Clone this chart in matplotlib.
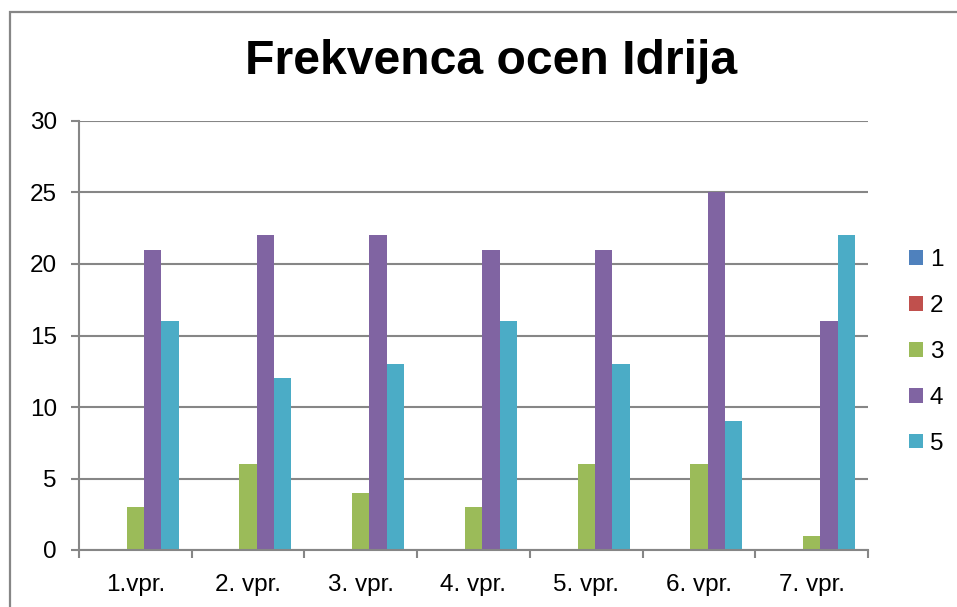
import matplotlib
matplotlib.use("Agg")
import matplotlib.pyplot as plt
import numpy as np
from matplotlib.patches import Rectangle

categories = ["1.vpr.", "2. vpr.", "3. vpr.", "4. vpr.", "5. vpr.", "6. vpr.", "7. vpr."]
series_names = ["1", "2", "3", "4", "5"]
s1 = [0, 0, 0, 0, 0, 0, 0]
s2 = [0, 0, 0, 0, 0, 0, 0]
s3 = [3, 6, 4, 3, 6, 6, 1]
s4 = [21, 22, 22, 21, 21, 25, 16]
s5 = [16, 12, 13, 16, 13, 9, 22]
series = [s1, s2, s3, s4, s5]
colors = ["#4F81BD", "#C0504D", "#9BBB59", "#8064A2", "#4BACC6"]
yticks = [0, 5, 10, 15, 20, 25, 30]

plt.rcParams['font.family'] = ['Liberation Sans', 'DejaVu Sans']

W, H = 957, 607
fig = plt.figure(figsize=(W / 100, H / 100), dpi=100)
fig.patch.set_facecolor("white")

# chart border
fig.patches.append(Rectangle((10 / W, -0.05), 1.2, (H - 12) / H + 0.05,
                             transform=fig.transFigure, fill=False,
                             edgecolor="#868686", linewidth=1.6, zorder=0))

ax = fig.add_axes([79 / W, (H - 550) / H, (868 - 79) / W, (550 - 121) / H])

bw = 1 / 6.5
x = np.arange(len(categories))
handles = []
for i, (vals, c, name) in enumerate(zip(series, colors, series_names)):
    b = ax.bar(x + (i - 2) * bw, vals, width=bw, color=c, linewidth=0,
               label=name, zorder=3)
    handles.append(b)

ax.set_xlim(-0.5, len(categories) - 0.5)
ax.set_ylim(0, 30)
ax.set_yticks(yticks)
ax.set_yticklabels([str(t) for t in yticks], fontsize=17.5)
ax.set_xticks(x)
ax.set_xticklabels(categories, fontsize=17.5)
ax.tick_params(axis='x', length=0, pad=17)
ax.set_xticks(np.arange(len(categories) + 1) - 0.5, minor=True)
ax.tick_params(axis='x', which='minor', length=6, width=1.5, color="#868686")
ax.tick_params(axis='y', length=6, width=1.5, color="#868686", pad=10)

ax.grid(axis='y', color="#868686", linewidth=1.5, zorder=0)
for side in ["top", "right"]:
    ax.spines[side].set_visible(False)
for side in ["left", "bottom"]:
    ax.spines[side].set_color("#868686")
    ax.spines[side].set_linewidth(1.5)
ax.spines["left"].set_zorder(4)
ax.spines["bottom"].set_zorder(4)

fig.text(491 / W, 1 - 62 / H, "Frekvenca ocen Idrija", ha="center", va="center",
         fontsize=34.7, fontweight="bold")

leg = ax.legend(handles=handles, labels=series_names, loc="center left",
                bbox_to_anchor=(897 / W, 1 - 352 / H), bbox_transform=fig.transFigure,
                frameon=False, fontsize=17.5, handlelength=0.55, handleheight=0.55,
                handletextpad=0.3, labelspacing=0.98, borderpad=0)

fig.savefig("out.png", dpi=100)
